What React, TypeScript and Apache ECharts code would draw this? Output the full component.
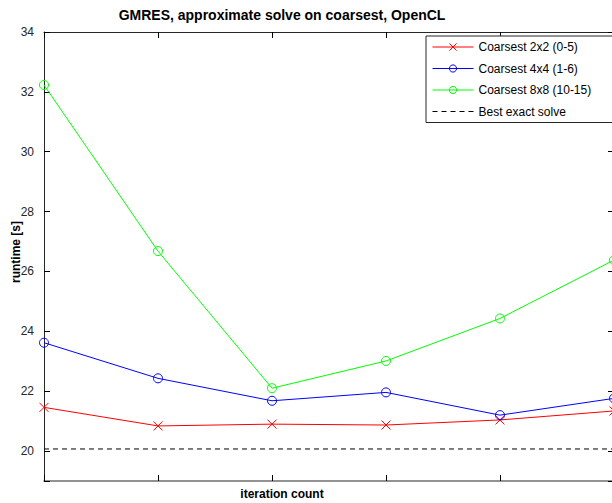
import React, { useEffect, useRef } from "react";
import * as echarts from "echarts";

// Iteration steps along the horizontal axis (tick labels are not shown)
const iterations = ["1", "2", "3", "4", "5", "6"];

// Runtime in seconds for each coarsest-level grid size
const coarsest2x2 = [21.46, 20.84, 20.9, 20.87, 21.04, 21.34];
const coarsest4x4 = [23.62, 22.43, 21.68, 21.96, 21.2, 21.76];
const coarsest8x8 = [32.23, 26.68, 22.1, 23.01, 24.43, 26.38];
const bestExactSolve = [20.07, 20.07, 20.07, 20.07, 20.07, 20.07];

const seriesNames = [
  "Coarsest 2x2 (0-5)",
  "Coarsest 4x4 (1-6)",
  "Coarsest 8x8 (10-15)",
  "Best exact solve",
];

const yMin = 19;
const yMax = 34;

const FONT = "'Liberation Sans', Arial, Helvetica, sans-serif";
const AXIS_COLOR = "#262626";
const CROSS = "path://M0,0L10,10M10,0L0,10";

export default function App() {
  const ref = useRef<HTMLDivElement | null>(null);

  useEffect(() => {
    if (!ref.current) return;
    const chart = echarts.init(ref.current, undefined, { renderer: "svg" });

    const tick = () => ({
      show: true,
      inside: true,
      length: 6,
      lineStyle: { color: "#000000", width: 1 },
    });

    // Unfilled markers with a thin outline
    const marker = (color: string) => ({
      color: "transparent",
      borderColor: color,
      borderWidth: 1,
    });

    chart.setOption({
      animation: false,
      backgroundColor: "#ffffff",
      textStyle: { fontFamily: FONT },
      grid: { left: 44, right: 2, top: 32, bottom: 22, containLabel: false },
      legend: {
        orient: "vertical",
        left: 426,
        top: 36,
        data: [
          { name: seriesNames[0] },
          { name: seriesNames[1] },
          { name: seriesNames[2] },
          { name: seriesNames[3], itemStyle: { opacity: 0 } },
        ],
        itemWidth: 41,
        itemHeight: 9,
        itemGap: 9.5,
        padding: [5, 24, 5, 6],
        lineStyle: { width: 1 },
        itemStyle: { borderWidth: 1 },
        backgroundColor: "#ffffff",
        borderColor: "#262626",
        borderWidth: 1,
        borderRadius: 0,
        textStyle: { color: "#000", fontSize: 12, fontFamily: FONT },
      },
      xAxis: [
        {
          type: "category",
          data: iterations,
          boundaryGap: false,
          position: "bottom",
          axisLine: { show: true, lineStyle: { color: "#6e6e6e", width: 1.5 } },
          axisTick: tick(),
          axisLabel: { show: false },
          splitLine: { show: false },
        },
        {
          type: "category",
          data: iterations,
          boundaryGap: false,
          position: "top",
          axisLine: { show: true, lineStyle: { color: AXIS_COLOR, width: 1 } },
          axisTick: tick(),
          axisLabel: { show: false },
          splitLine: { show: false },
        },
      ],
      yAxis: [
        {
          type: "value",
          min: yMin,
          max: yMax,
          splitNumber: 7,
          position: "left",
          axisLine: { show: true, lineStyle: { color: AXIS_COLOR, width: 1 } },
          axisTick: tick(),
          axisLabel: {
            color: AXIS_COLOR,
            fontSize: 12,
            fontFamily: FONT,
            margin: 10,
            formatter: (v: number) => (v % 2 === 0 ? String(v) : ""),
          },
          splitLine: { show: false },
        },
        {
          type: "value",
          min: yMin,
          max: yMax,
          splitNumber: 7,
          position: "right",
          axisLine: { show: true, lineStyle: { color: AXIS_COLOR, width: 1 } },
          axisTick: tick(),
          axisLabel: { show: false },
          splitLine: { show: false },
        },
      ],
      series: [
        {
          name: seriesNames[0],
          type: "line",
          data: coarsest2x2,
          symbol: CROSS,
          symbolSize: 9,
          lineStyle: { color: "#ff0000", width: 1 },
          itemStyle: marker("#ff0000"),
        },
        {
          name: seriesNames[1],
          type: "line",
          data: coarsest4x4,
          symbol: "circle",
          symbolSize: 9,
          lineStyle: { color: "#0000ff", width: 1 },
          itemStyle: marker("#0000ff"),
        },
        {
          name: seriesNames[2],
          type: "line",
          data: coarsest8x8,
          symbol: "circle",
          symbolSize: 9,
          lineStyle: { color: "#00ff00", width: 1 },
          itemStyle: marker("#00ff00"),
        },
        {
          name: seriesNames[3],
          type: "line",
          data: bestExactSolve,
          symbol: "none",
          lineStyle: { color: "#000000", width: 1, type: [5, 4] },
          itemStyle: { color: "#000000" },
        },
      ],
      graphic: [
        {
          type: "text",
          x: 282,
          y: 15,
          style: {
            text: "GMRES, approximate solve on coarsest, OpenCL",
            fontFamily: FONT,
            fontSize: 14,
            fontWeight: "bold",
            fill: "#000",
            align: "center",
            verticalAlign: "middle",
          },
        },
        {
          type: "text",
          x: 16,
          y: 252,
          rotation: Math.PI / 2,
          style: {
            text: "runtime [s]",
            fontFamily: FONT,
            fontSize: 12,
            fontWeight: "bold",
            fill: "#000",
            align: "center",
            verticalAlign: "middle",
          },
        },
        {
          type: "text",
          x: 282,
          y: 494,
          style: {
            text: "iteration count",
            fontFamily: FONT,
            fontSize: 12,
            fontWeight: "bold",
            fill: "#000",
            align: "center",
            verticalAlign: "middle",
          },
        },
      ],
    });

    return () => {
      chart.dispose();
    };
  }, []);

  return (
    <div
      style={{
        position: "fixed",
        left: 0,
        top: 0,
        width: 612,
        height: 503,
        overflow: "hidden",
        background: "#fff",
      }}
    >
      <div ref={ref} style={{ width: 616, height: 503 }} />
    </div>
  );
}
